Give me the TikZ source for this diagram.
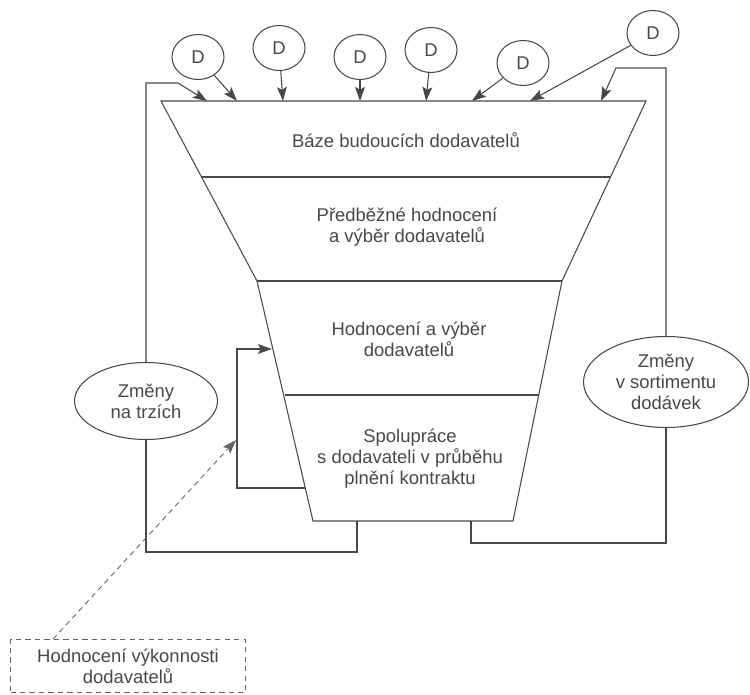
\documentclass[tikz,border=0pt]{standalone}
\usepackage{fontspec}
\setmainfont{Liberation Sans}
\usepackage{xcolor}
\usetikzlibrary{arrows.meta}
\usetikzlibrary{shapes.geometric}
\definecolor{tuzka}{HTML}{484848}
\tikzset{
  Linie/.style={draw=tuzka, line width=0.6pt}, % obyčejné čáry
  Sipka/.style={Linie,->}, % šipky
  Dod/.style={ellipse, Linie, minimum width=1.04cm, minimum height=0.9cm, inner sep=0pt, text=tuzka},% dodavatel D
  Zmena/.style={ellipse, Linie, align=center, inner sep=0pt, text=tuzka},% vnější změny
  Popis/.style={align=center, text=tuzka} % texty v trychtýři
}

\begin{document}
\begin{tikzpicture}[
x=0.02cm, y=-0.02cm,
font=\fontsize{10.5}{12}\selectfont,
>={Stealth[length=8pt,width=5.6pt,inset=1.6pt]} % hroty šipek
]
\useasboundingbox (0,0) rectangle (750,695);

%Trychtýř
\coordinate (H1) at (161,101); \coordinate (H2) at (646,101);
\coordinate (A1) at (201,177); \coordinate (A2) at (610,177);
\coordinate (B1) at (257,281); \coordinate (B2) at (562,281);
\coordinate (C1) at (285,395); \coordinate (C2) at (539,395);
\coordinate (E1) at (313,521); \coordinate (E2) at (513,521);
\draw[Linie] (H1) -- (H2) -- (B2) -- (E2) -- (E1) -- (B1) -- cycle;
\draw[Linie] (A1) -- (A2);
\draw[Linie] (B1) -- (B2);
\draw[Linie] (C1) -- (C2);

%Stupně
\node[Popis] (baze) at (406,140) {Báze budoucích dodavatelů};
\node[Popis] (pred) at (407,227) {Předběžné hodnocení\\a výběr dodavatelů};
\node[Popis] (hodn) at (409,339) {Hodnocení a výběr\\dodavatelů};
\node[Popis] (spol) at (410,459) {Spolupráce\\s dodavateli v průběhu\\plnění kontraktu};

%Dodavatelé
\node[Dod] (d1) at (198,57) {D};
\node[Dod] (d2) at (279,48) {D};
\node[Dod] (d3) at (360,57) {D};
\node[Dod] (d4) at (431,50) {D};
\node[Dod] (d5) at (523,63) {D};
\node[Dod] (d6) at (653,33) {D};

%Vstupy na horní hraně
\coordinate (v1) at (207,101);
\coordinate (v2) at (237,101);
\coordinate (v3) at (283,101);
\coordinate (v4) at (360,101);
\coordinate (v5) at (426,101);
\coordinate (v6) at (472,101);
\coordinate (v7) at (530,101);
\coordinate (v8) at (601,101);

\draw[Sipka] (d1) -- (v2);
\draw[Sipka] (d2) -- (v3);
\draw[Sipka] (d3) -- (v4);
\draw[Sipka] (d4) -- (v5);
\draw[Sipka] (d5) -- (v6);
\draw[Sipka] (d6) -- (v7);

%Změny na trzích
\node[Zmena, minimum width=2.86cm, minimum height=1.54cm] (trh) at (146,401) {Změny\\na trzích};
\coordinate (L1) at (178,83);
\coordinate (L2) at (357,552);
\coordinate (u1) at (357,521);
\draw[Sipka] (trh.north) |- (L1) -- (v1);
\draw[Linie] (trh.south) |- (L2) -- (u1);

%Změny v sortimentu
\node[Zmena, minimum width=3.3cm, minimum height=1.82cm] (sort) at (666,382) {Změny\\v sortimentu\\dodávek};
\coordinate (R1) at (616,68);
\coordinate (R2) at (471,543);
\coordinate (u2) at (471,521);
\draw[Sipka] (sort.north) |- (R1) -- (v8);
\draw[Linie] (sort.south) |- (R2) -- (u2);

%Zpětná vazba
\coordinate (w1) at (305,488);
\coordinate (K1) at (237,488);
\coordinate (w2) at (272,349);
\draw[Sipka] (w1) -- (K1) |- (w2);

%Hodnocení výkonnosti
\node[Popis, draw=tuzka!85, line width=0.5pt, dash pattern=on 3pt off 2.4pt,
  minimum width=4.7cm, minimum height=1.06cm] (vyk) at (128,666) {Hodnocení výkonnosti\\dodavatelů};
\coordinate (z1) at (236,440);
\draw[Sipka, draw=tuzka!85, line width=0.5pt, dash pattern=on 3pt off 2.4pt] ([xshift=0.86cm]vyk.north west) -- (z1);

\end{tikzpicture}
\end{document}
